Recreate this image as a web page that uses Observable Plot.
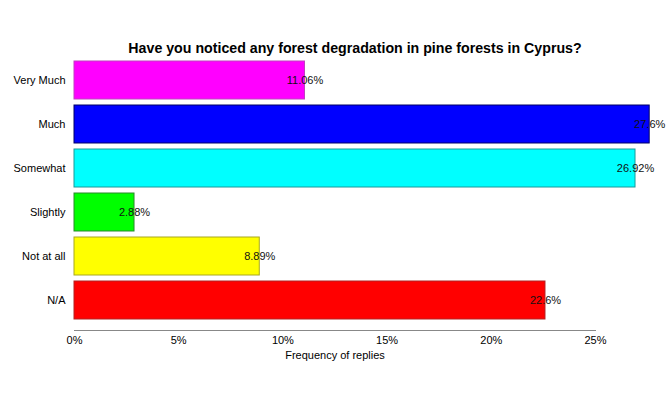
<!DOCTYPE html>
<html>
<head>
<meta charset="utf-8">
<script src="https://cdn.jsdelivr.net/npm/d3@7"></script>
<script src="https://cdn.jsdelivr.net/npm/@observablehq/plot@0.6"></script>
<style>
  html, body { margin: 0; padding: 0; background: #fff; }
</style>
</head>
<body>
<div id="chart"></div>
<script>
const categories = ["Very Much", "Much", "Somewhat", "Slightly", "Not at all", "N/A"];
const values = [11.06, 27.6, 26.92, 2.88, 8.89, 22.6];
const fills = ["#ff00ff", "#0000ff", "#00ffff", "#00ff00", "#ffff00", "#ff0000"];
const strokes = ["#c23fc2", "#000066", "#1a9a9a", "#2a8a2a", "#a8a820", "#b22222"];
const xTicks = [0, 5, 10, 15, 20, 25];
const titleText = "Have you noticed any forest degradation in pine forests in Cyprus?";
const xLabel = "Frequency of replies";

const data = categories.map((c, i) => ({cat: c, value: values[i], fill: fills[i], stroke: strokes[i]}));

const chart = Plot.plot({
  width: 667,
  height: 399,
  marginLeft: 74,
  marginRight: 72,
  marginTop: 50,
  marginBottom: 69,
  style: {fontFamily: "Liberation Sans, Arial, sans-serif", fontSize: "11px", color: "#000", background: "#fff"},
  x: {domain: [0, 25]},
  y: {domain: categories, paddingInner: 0.144, paddingOuter: 0.2},
  marks: [
    Plot.barX(data, {y: "cat", x: "value", fill: "fill", stroke: "stroke", strokeWidth: 1}),
    Plot.text(data, {y: "cat", x: "value", text: d => d.value + "%", textAnchor: "middle", fill: "#111", fontSize: 11}),
    Plot.frame({anchor: "bottom", stroke: "#888"}),
    Plot.axisX({ticks: xTicks, tickFormat: d => d + "%", tickSize: 0, tickPadding: 6, label: xLabel, labelAnchor: "center", labelArrow: "none", labelOffset: 28, fontSize: 11}),
    Plot.axisY({tickSize: 0, tickPadding: 9, label: null, fontSize: 11}),
    Plot.text([titleText], {frameAnchor: "top", dy: -8, dx: 20, fontWeight: "bold", fontSize: 14.2, fill: "#000"})
  ]
});
document.getElementById("chart").appendChild(chart);
</script>
</body>
</html>
